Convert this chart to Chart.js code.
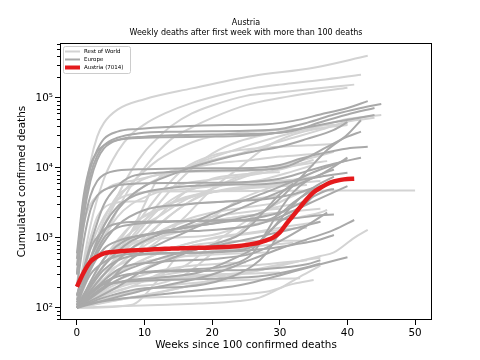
<!DOCTYPE html>
<html>
<head>
<meta charset="utf-8">
<script src="https://cdn.jsdelivr.net/npm/chart.js@4"></script>
<style>
  html, body { margin: 0; padding: 0; background: #fff; }
</style>
</head>
<body>
<canvas id="chart" width="480" height="360"></canvas>
<script>
// weeks since 100 deaths -> cumulated deaths
const austria = [200, 320, 457, 540, 600, 625, 640, 650, 660, 668, 675, 682, 690, 697, 702, 707, 712, 716, 720, 724,
  728, 733, 740, 750, 765, 790, 820, 860, 920, 1010, 1200, 1600, 2100, 2750, 3600, 4500, 5200, 5900, 6400, 6750, 6950, 7014];

// other countries, given as [week, deaths] points
const europe = [
  [[0,500],[1,3500],[2,10000],[3,18000],[4,26000],[6,33000],[9,36000],[15,39000],[22,41000],[28,42000],[32,47000],[36,58000],[40,72000],[43,90000]],
  [[0,400],[1,2500],[2,8000],[3,15000],[4,21000],[6,27000],[9,31000],[15,33000],[25,34000],[30,36000],[34,44000],[38,58000],[42,72000],[45,82000]],
  [[0,300],[1,2000],[2,6500],[3,13000],[4,19000],[6,25000],[10,28000],[20,30000],[28,31000],[32,34000],[36,45000],[40,58000],[44,72000]],
  [[0,600],[1,4000],[2,11000],[3,17000],[4,21000],[6,25000],[10,27000],[20,28000],[26,29000],[30,32000],[34,38000],[38,45000],[44,57000]],
  [[0,300],[1,1500],[2,4000],[3,6500],[4,8000],[6,9200],[10,9600],[20,9900],[26,10000],[30,11000],[33,13500],[36,16000],[40,19000],[43,20000]],
  [[0,200],[1,900],[2,2500],[3,4000],[5,5300],[8,5900],[15,6100],[25,6300],[30,7000],[34,9000],[38,11500],[42,14000]],
  [[0,150],[2,800],[4,3000],[6,5500],[8,7500],[12,8500],[20,9200],[28,9500],[31,10500],[34,14000],[37,20000],[40,28000],[42,33000]],
  [[0,110],[2,500],[4,1500],[6,2800],[8,3800],[10,4500],[14,5200],[20,5700],[28,5900],[32,6500],[36,7500],[40,8500]],
  [[0,150],[2,700],[4,1300],[6,1600],[10,1700],[20,1750],[28,1800],[30,2200],[32,3200],[34,4300],[36,5500],[38,6500]],
  [[0,100],[2,400],[4,1000],[6,1400],[8,1550],[14,1700],[22,1780],[28,1800],[32,1900],[36,2100],[38,2150]],
  [[0,120],[2,350],[4,700],[6,900],[10,1100],[16,1400],[22,1700],[26,1900],[30,2300],[34,3500],[37,4800],[38,5000]],
  [[0,110],[4,400],[8,900],[12,1200],[16,1400],[20,1600],[24,1900],[28,2500],[31,4500],[34,9000],[37,18000],[40,30000],[42,48000]],
  [[0,100],[4,300],[8,700],[12,1100],[16,1500],[20,2200],[24,3200],[28,4500],[32,6500],[36,9500],[40,13000]],
  [[0,100],[8,300],[16,350],[24,450],[26,600],[28,1200],[30,2500],[32,4500],[34,6500],[36,8000],[38,9500]],
  [[0,100],[4,350],[8,550],[14,600],[22,650],[26,750],[28,1100],[30,1800],[32,3000],[34,4500],[36,6000],[38,7500]],
  [[0,120],[2,300],[4,450],[6,550],[10,600],[20,620],[28,700],[32,800],[36,950],[38,1100]],
  [[0,100],[3,200],[6,280],[10,320],[20,340],[28,360],[34,420],[36,480]],
  [[0,100],[4,140],[10,190],[16,200],[22,260],[26,400],[28,600],[30,1200],[32,2200],[34,3200],[35,4000]],
  [[0,100],[6,200],[10,350],[16,600],[20,800],[24,1100],[26,1600],[28,2600],[30,4200],[32,6000]],
  [[0,100],[3,200],[6,230],[12,250],[20,260],[28,290],[34,380],[36,430]],
  [[0,100],[4,200],[8,500],[12,800],[16,1200],[20,1800],[24,2600],[28,3800],[32,5500],[36,8000],[40,14000]],
  [[0,150],[2,500],[4,1200],[6,2500],[8,4000],[10,5500],[14,8000],[18,11000],[22,14000],[26,17000],[30,20000],[34,26000],[38,35000],[40,45000]],
  [[0,100],[4,200],[8,250],[12,270],[18,320],[24,550],[26,700],[28,1100],[30,1700],[33,2500]],
  [[0,110],[8,140],[16,170],[24,210],[28,260],[32,330],[36,420],[40,530]],
  [[0,100],[10,180],[20,300],[26,500],[30,700],[34,950],[38,1300],[41,1800]],
  [[0,110],[6,300],[12,500],[18,700],[24,900],[28,1100],[32,1350],[36,1700]],
  [[0,130],[3,600],[6,1500],[10,2500],[16,3000],[22,3300],[28,3600],[32,4200],[35,5200]],
  [[0,100],[4,500],[8,1000],[14,1200],[20,1300],[26,1500],[30,2000],[34,3000],[38,4500],[40,5500]],
  [[0,100],[6,350],[12,450],[20,500],[26,600],[30,900],[34,1500],[37,2300]]
];

const restOfWorld = [
  [[0,300],[1,3000],[2,12000],[3,28000],[4,44000],[6,68000],[10,96000],[17,137000],[26,206000],[35,270000],[43,400000]],
  [[0,130],[2,1500],[4,7000],[6,17000],[8,30000],[10,42000],[13,60000],[17,85000],[22,115000],[26,137000],[30,155000],[36,180000],[42,215000]],
  [[0,100],[2,500],[4,1500],[6,4000],[8,9000],[10,17000],[12,27000],[14,40000],[17,60000],[20,78000],[25,107000],[30,120000],[35,135000],[41,155000]],
  [[0,100],[3,600],[6,2500],[8,5500],[10,10000],[12,17000],[14,26000],[17,38000],[20,52000],[25,79000],[30,100000],[35,120000],[40,140000]],
  [[0,100],[2,400],[4,1200],[6,2500],[8,4000],[10,5500],[12,7000],[16,10000],[20,14000],[24,19000],[28,25000],[32,32000],[36,40000],[40,50000],[45,57000]],
  [[0,100],[2,500],[4,1500],[6,3500],[8,6000],[10,9000],[12,13000],[14,17000],[18,25000],[22,30000],[26,33000],[30,35000],[34,36500],[36,37000]],
  [[0,100],[4,300],[8,1000],[12,3000],[16,8000],[20,16000],[24,24000],[28,30000],[32,35000],[36,40000],[40,42000]],
  [[0,100],[4,300],[8,500],[12,900],[16,2000],[20,5000],[24,10000],[28,20000],[32,30000],[36,37000],[40,41000]],
  [[0,100],[4,300],[8,1200],[12,4000],[16,10000],[20,15000],[24,18000],[30,20000],[36,21500],[38,22000]],
  [[0,200],[1,1500],[2,3000],[3,4000],[5,5500],[8,6500],[12,8000],[16,10000],[20,13000],[24,16000],[28,21000],[32,27000],[36,35000],[40,46000],[44,52000]],
  [[0,100],[4,500],[8,1200],[12,2000],[16,3500],[20,5000],[24,7000],[28,9500],[32,12000],[36,15000],[38,17000]],
  [[0,100],[4,300],[8,1200],[10,3000],[12,7000],[14,9000],[18,10500],[22,12000],[26,13000],[30,14500],[34,15500],[36,16000]],
  [[0,100],[2,500],[4,1800],[6,4000],[8,5500],[10,7000],[14,8500],[20,8900],[26,9200],[30,10000],[34,11500],[37,12500]],
  [[0,100],[2,400],[4,1000],[6,2000],[8,3000],[12,4500],[16,6000],[20,6800],[26,8000],[30,9500],[35,13000]],
  [[0,100],[2,700],[4,2000],[6,3500],[8,4200],[12,4600],[18,5200],[24,6000],[28,7000],[32,9000],[35,11000]],
  [[0,130],[1,400],[2,1000],[3,2000],[4,2700],[6,3200],[8,3300],[10,3330],[11,4600],[20,4630],[30,4700],[40,4740],[50,4750]],
  [[0,100],[4,300],[8,700],[12,1000],[16,1300],[20,2000],[24,3500],[28,5000],[32,6500],[36,7500]],
  [[0,100],[4,300],[8,700],[12,1500],[16,3000],[20,4500],[24,5300],[28,5700],[32,6000],[36,6500]],
  [[0,100],[4,300],[8,800],[12,2000],[16,4500],[20,7000],[24,8000],[28,8500],[30,8700]],
  [[0,100],[3,300],[6,700],[9,900],[14,1000],[20,1100],[24,1400],[28,1700],[32,1900],[36,2300],[37,2500]],
  [[0,100],[4,300],[8,900],[12,2500],[16,4500],[20,5800],[24,6100],[28,6400],[32,6800],[35,7500]],
  [[0,100],[4,400],[8,1200],[12,2500],[16,3800],[20,4500],[26,5200],[32,5600],[34,5700]],
  [[0,100],[4,400],[8,1500],[12,2600],[16,3600],[20,4500],[26,5200],[30,6000],[34,6600]],
  [[0,100],[4,200],[8,500],[12,1500],[16,3000],[20,5000],[24,7500],[28,9500],[32,11000],[34,11800]],
  [[0,100],[4,500],[8,1500],[12,2500],[16,3000],[22,3300],[28,3800],[30,4100]],
  [[0,100],[4,300],[8,700],[12,1200],[16,1800],[20,2300],[26,2800],[30,3200]],
  [[0,100],[4,150],[8,200],[12,300],[16,400],[20,800],[24,1500],[28,2500],[32,3000],[34,3100]],
  [[0,100],[8,110],[12,250],[16,700],[20,850],[24,900],[30,907],[34,908]],
  [[0,100],[4,200],[10,250],[18,280],[26,330],[32,450],[36,520]],
  [[0,100],[8,140],[16,200],[24,300],[30,400],[36,550],[38,620],[41,1000],[43,1300]],
  [[0,100],[6,150],[12,200],[18,230],[24,250],[30,260],[33,265]],
  [[0,100],[4,130],[10,140],[20,150],[28,170],[32,220],[35,250]],
  [[0,100],[4,150],[8,200],[12,220],[16,300],[20,600],[24,1200],[28,2500],[32,4000],[36,5500]],
  [[0,100],[4,200],[8,300],[12,450],[16,550],[20,650],[26,750],[32,850]],
  [[0,100],[4,300],[8,700],[12,1200],[16,1700],[20,2000],[26,2400],[30,2600]],
  [[0,100],[4,400],[8,800],[12,1100],[16,1400],[20,1700],[24,2000],[30,2300],[36,2600]],
  [[0,100],[6,105],[12,110],[18,115],[24,125],[27,140],[30,190],[33,280],[36,400]],
  [[0,100],[5,180],[10,260],[16,330],[22,380],[28,420],[34,480]],
  [[0,100],[5,200],[10,300],[15,380],[20,420],[25,450]],
  [[0,100],[4,250],[8,400],[12,500],[18,560],[24,600],[28,620]],
  [[0,100],[3,150],[8,230],[14,280],[20,300],[26,310],[30,320]],
  [[0,100],[6,300],[12,600],[18,900],[24,1100],[30,1300],[34,1400]],
  [[0,100],[4,160],[8,220],[16,260],[22,290]],
  [[0,100],[6,400],[12,1000],[18,1600],[24,2000],[28,2200]],
  [[0,100],[4,120],[10,150],[16,200],[22,280],[28,380],[32,450]],
  [[0,100],[8,400],[14,700],[20,1000],[26,1200],[32,1500],[36,1700]]
];

const xTicks = [0, 10, 20, 30, 40, 50];
const yTicks = [100, 1000, 10000, 100000];
const yTickLabels = ['10²', '10³', '10⁴', '10⁵'];

const lightGrey = '#d3d3d3';
const darkGrey = '#a9a9a9';
const red = '#e41a1c';
const font = 'DejaVu Sans';

const toPts = line => line.map(([x, y]) => ({ x, y }));

const lineStyle = {
  pointRadius: 0,
  fill: false,
  cubicInterpolationMode: 'monotone'
};

const datasets = [
  ...restOfWorld.map((line, i) => ({
    ...lineStyle, label: i === 0 ? 'Rest of World' : '', data: toPts(line),
    borderColor: lightGrey, borderWidth: 2, order: 3
  })),
  ...europe.map((line, i) => ({
    ...lineStyle, label: i === 0 ? 'Europe' : '', data: toPts(line),
    borderColor: darkGrey, borderWidth: 2, order: 2
  })),
  {
    ...lineStyle, label: 'Austria (7014)', data: austria.map((y, x) => ({ x, y })),
    borderColor: red, borderWidth: 4.5, order: 1
  }
];

// axes frame, minor log ticks and the small legend inside the plot
const frameAndLegend = {
  id: 'frameAndLegend',
  afterDraw(chart) {
    const { ctx, chartArea: a } = chart;
    const yScale = chart.scales.y;
    ctx.save();

    ctx.strokeStyle = '#000';
    ctx.lineWidth = 1;
    for (let p = 1; p <= 6; p++) {
      for (let m = 2; m <= 9; m++) {
        const v = m * Math.pow(10, p);
        if (v < yScale.min || v > yScale.max) continue;
        const py = Math.round(yScale.getPixelForValue(v)) + 0.5;
        ctx.beginPath();
        ctx.moveTo(a.left - 3, py);
        ctx.lineTo(a.left, py);
        ctx.stroke();
      }
    }
    ctx.strokeRect(Math.round(a.left) + 0.5, Math.round(a.top) + 0.5,
      Math.round(a.right - a.left) - 1, Math.round(a.bottom - a.top) - 1);

    const items = chart.data.datasets.filter(d => d.label);
    items.sort((p, q) => q.order - p.order);
    const bx = a.left + 3, by = a.top + 3, bw = 67, bh = 27;
    ctx.fillStyle = 'rgba(255,255,255,0.8)';
    ctx.strokeStyle = '#cccccc';
    ctx.beginPath();
    ctx.roundRect(bx + 0.5, by + 0.5, bw, bh, 2);
    ctx.fill();
    ctx.stroke();
    ctx.font = '5.5px "' + font + '"';
    ctx.textBaseline = 'middle';
    items.forEach((d, i) => {
      const ly = by + 5.5 + i * 8;
      ctx.strokeStyle = d.borderColor;
      ctx.lineWidth = d.order === 1 ? 4 : 2;
      ctx.beginPath();
      ctx.moveTo(bx + 2, ly);
      ctx.lineTo(bx + 17, ly);
      ctx.stroke();
      ctx.fillStyle = '#000';
      ctx.fillText(d.label, bx + 21, ly);
    });
    ctx.restore();
  }
};

new Chart(document.getElementById('chart'), {
  type: 'line',
  data: { datasets },
  options: {
    responsive: false,
    animation: false,
    devicePixelRatio: 1,
    layout: { padding: { left: 12, right: 48, top: 0, bottom: 0 } },
    plugins: {
      legend: { display: false },
      tooltip: { enabled: false },
      title: {
        display: true, text: 'Austria', color: '#000', fullSize: false,
        font: { family: font, size: 8, weight: 'normal' },
        padding: { top: 18.5, bottom: 0 }
      },
      subtitle: {
        display: true, text: 'Weekly deaths after first week with more than 100 deaths', color: '#000', fullSize: false,
        font: { family: font, size: 8, weight: 'normal' },
        padding: { top: 0, bottom: 5.3 }
      }
    },
    scales: {
      x: {
        type: 'linear', min: -2.5, max: 52.5,
        afterBuildTicks: s => { s.ticks = xTicks.map(v => ({ value: v })); },
        afterFit: s => { s.height = 40; },
        grid: { drawOnChartArea: false, drawTicks: true, tickLength: 5, color: '#000' },
        border: { display: false },
        ticks: { color: '#000', padding: 2, maxRotation: 0, font: { family: font, size: 10.4 } },
        title: {
          display: true, text: 'Weeks since 100 confirmed deaths', color: '#000',
          font: { family: font, size: 10.4 }, padding: { top: 4, bottom: 8 }
        }
      },
      y: {
        type: 'logarithmic', min: 67, max: 610000,
        afterBuildTicks: s => { s.ticks = yTicks.map(v => ({ value: v })); },
        afterFit: s => { s.width = 48; },
        grid: { drawOnChartArea: false, drawTicks: true, tickLength: 5, color: '#000' },
        border: { display: false },
        ticks: {
          color: '#000', padding: 2, font: { family: font, size: 10.4 },
          callback: v => yTickLabels[yTicks.indexOf(v)]
        },
        title: {
          display: true, text: 'Cumulated confirmed deaths', color: '#000',
          font: { family: font, size: 10.4 }, padding: { top: 4, bottom: 4 }
        }
      }
    }
  },
  plugins: [frameAndLegend]
});
</script>
</body>
</html>
